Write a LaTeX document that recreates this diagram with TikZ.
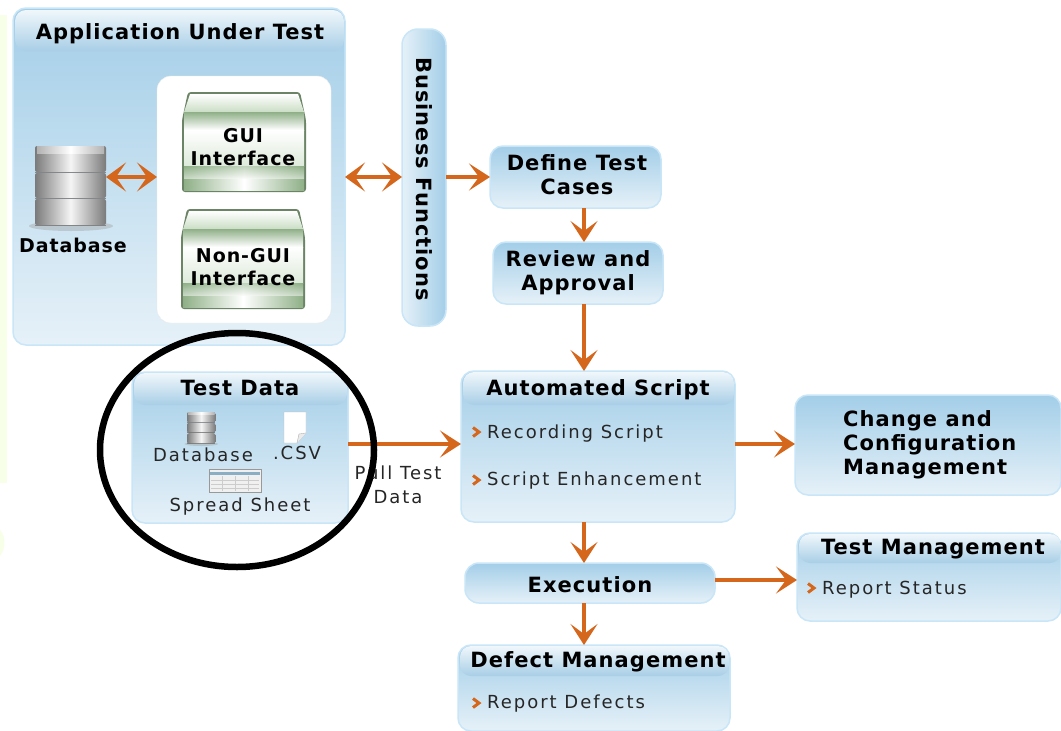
\documentclass[tikz,border=0pt]{standalone}
\usepackage{fontspec}
\setmainfont{DejaVu Sans}
\newfontfamily\titlefam[LetterSpace=5]{DejaVu Sans}
\newfontfamily\textfam[LetterSpace=11]{DejaVu Sans}
\usetikzlibrary{arrows.meta,shadings,calc}
\definecolor{edgeblue}{HTML}{C8E6F8}
\definecolor{bodytop}{HTML}{A3CEE8}
\definecolor{bodybot}{HTML}{E6F1F8}
\definecolor{headtop}{HTML}{F0F7FB}
\definecolor{headbot}{HTML}{A8CEE6}
\definecolor{flowc}{HTML}{D5671D}
\definecolor{gdark}{HTML}{8FB087}
\definecolor{gmid}{HTML}{B4CFAC}
\definecolor{paleyel}{HTML}{F8FFE8}
\tikzset{
  x=1pt,y=-1pt,
  bodybox/.style={draw=edgeblue,line width=1.5pt,rounded corners=13pt,top color=bodytop,bottom color=bodybot,
    anchor=north west,inner sep=0pt,outer sep=0pt},
  headbox/.style={rounded corners=11pt,top color=headtop,bottom color=headbot,
    anchor=north west,inner sep=0pt,outer sep=0pt},
  title/.style={font=\titlefam\fontsize{21}{24}\selectfont\bfseries,text=black,inner sep=0pt,align=center},
  smalltitle/.style={title,font=\titlefam\fontsize{19}{23}\selectfont\bfseries},
  smalltext/.style={font=\textfam\fontsize{18}{22}\selectfont,text=black!85,inner sep=0pt},
  flow/.style={draw=flowc,line width=3.5pt,-{Stealth[length=21pt,width=27pt,inset=10pt]}},
  flowboth/.style={draw=flowc,line width=3.5pt,{Stealth[length=20pt,width=29pt,inset=10pt]}-{Stealth[length=20pt,width=29pt,inset=10pt]}},
  bullet/.pic={\draw[flowc,line width=3pt] (-3,-4.5) -- (3,0) -- (-3,4.5);},
  dbicon/.pic={
    \fill[black!35,opacity=.45] (36,80) ellipse (42 and 5);
    \foreach \a/\b in {0/26,27/52,53/79}{
      \shade[left color=black!52,right color=black!52,middle color=black!4,rounded corners=2pt] (0,\a) rectangle (71,\b);
      \draw[black!55,line width=1pt,opacity=.8] (0,\b) -- (71,\b);
    }
    \shade[left color=black!30,right color=black!30,middle color=white] (2,0) rectangle (69,7);
  },
  greenbox/.pic={
    \fill[gdark!75!black,rounded corners=3pt] (6,0) -- (118,0) -- (124,28) -- (124,100) -- (0,100) -- (0,28) -- cycle;
    \shade[top color=white,bottom color=gmid!70] (8,2) -- (116,2) -- (122,20) -- (2,20) -- cycle;
    \shade[top color=gdark,bottom color=white] (2,20) rectangle (122,38);
    \shade[top color=white,bottom color=white!55!gmid] (2,38) rectangle (122,74);
    \shade[left color=gdark,right color=gdark,middle color=white] (2,74) rectangle (122,98);
    \shade[top color=gdark,bottom color=gdark!10,opacity=.55] (2,74) rectangle (122,86);
  },
}
\begin{document}
\begin{tikzpicture}
\useasboundingbox (0,0) rectangle (1061,731);
\fill[white] (0,0) rectangle (1061,731);
\fill[paleyel] (0,15) rectangle (7,483);
\fill[paleyel] (0,530) .. controls (6,535) and (6,550) .. (0,556) -- cycle;

% Application Under Test
\node[bodybox,minimum width=332pt,minimum height=337pt] (aut) at (13,8) {};
\node[headbox,minimum width=329pt,minimum height=41pt] (authead) at (15,10) {};
\node[title] (autt) at (180,34) {Application Under Test};
\node[anchor=north west,fill=white,draw=black!8,rounded corners=14pt,minimum width=174pt,minimum height=247pt,inner sep=0pt,outer sep=0pt] (panel) at (157,76) {};
\pic at (182,92) {greenbox};
\node[smalltitle] (gui) at (243,147) {GUI\\[0pt]Interface};
\pic at (181,209) {greenbox};
\node[smalltitle] (nongui) at (243,267) {Non-GUI\\[0pt]Interface};
\pic at (35,146) {dbicon};
\coordinate (dbright) at (106,177);
\node[smalltitle] (dblabel) at (73,245) {Database};

% Business Functions
\node[bodybox,rounded corners=16pt,minimum width=44pt,minimum height=297pt,left color=bodybot,right color=bodytop] (bf) at (402,29) {};
\node[title,rotate=-90] (bftext) at (424,179) {Business Functions};

% Flow column
\node[bodybox,minimum width=171pt,minimum height=62pt] (def) at (490,146) {};
\node[title] (deft) at (577,175) {Define Test\\[0pt]Cases};
\node[bodybox,minimum width=170pt,minimum height=62pt] (rev) at (493,242) {};
\node[title] (revt) at (578,273) {Review and\\[0pt]Approval};

% Automated Script
\node[bodybox,minimum width=274pt,minimum height=151pt] (auto) at (461,371) {};
\node[headbox,minimum width=271pt,minimum height=33pt] (autohead) at (463,372) {};
\node[title] (autot) at (598,390) {Automated Script};
\pic at (476,432) {bullet};
\node[smalltext,anchor=west] (rec) at (487,434) {Recording Script};
\pic at (476,480) {bullet};
\node[smalltext,anchor=west] (enh) at (487,481) {Script Enhancement};

% Test Data
\node[bodybox,minimum width=216pt,minimum height=151pt] (td) at (132,372) {};
\node[headbox,minimum width=213pt,minimum height=32pt] (tdhead) at (134,373) {};
\node[title] (tdt) at (240,388) {Test Data};
\pic[scale=.4] at (187,412) {dbicon};
\node[smalltext] (tddb) at (203,455) {Database};
\draw[black!25,fill=white] (284,412) -- (306,412) -- (306,433) -- (297,443) -- (284,443) -- cycle;
\draw[black!30,fill=black!8] (297,443) -- (299,434) -- (306,433);
\node[smalltext] (tdcsv) at (297,453) {.CSV};
\draw[black!40,fill=black!6] (209,469) rectangle (261,492);
\fill[bodytop!85!black] (210,472) rectangle (260,475);
\foreach \gy in {480,484,488}{\draw[black!20,line width=.6pt] (211,\gy) -- (259,\gy);}
\foreach \gx in {222,235,248}{\draw[black!20,line width=.6pt] (\gx,476) -- (\gx,491);}
\node[smalltext] (tdss) at (240,507) {Spread Sheet};

% Pull label
\node[smalltext,align=center] (pull) at (398,485) {Pull Test\\[2pt]Data};

% Change
\node[bodybox,minimum width=266pt,minimum height=100pt] (chg) at (795,395) {};
\node[title,anchor=west,align=left] (chgt) at (843,445) {Change and\\[0pt]Configuration\\[0pt]Management};

% Execution
\node[bodybox,rounded corners=14pt,minimum width=250pt,minimum height=40pt] (exe) at (465,563) {};
\node[title] (exet) at (590,585) {Execution};

% Test Management
\node[bodybox,minimum width=264pt,minimum height=88pt] (tm) at (797,533) {};
\node[headbox,minimum width=262pt,minimum height=29pt] (tmhead) at (799,534) {};
\node[title] (tmt) at (933,549) {Test Management};
\pic at (811,588) {bullet};
\node[smalltext,anchor=west] (rs) at (822,590) {Report Status};

% Defect Management
\node[bodybox,minimum width=272pt,minimum height=86pt] (dm) at (458,645) {};
\node[headbox,minimum width=269pt,minimum height=30pt] (dmhead) at (460,646) {};
\node[title] (dmt) at (598,662) {Defect Management};
\pic at (476,703) {bullet};
\node[smalltext,anchor=west] (rd) at (487,704) {Report Defects};

% Connectors
\coordinate (vx) at (584,0);
\coordinate (ya) at (0,177);
\draw[flowboth] (dbright) -- (dbright -| panel.west);
\draw[flowboth] (aut.east |- ya) -- (bf.west |- ya);
\draw[flow] (bf.east |- ya) -- (def.west |- ya);
\draw[flow] (vx |- def.south) -- (vx |- rev.north);
\draw[flow] (vx |- rev.south) -- (vx |- auto.north);
\coordinate (yb) at (0,444);
\draw[flow] (td.east |- yb) -- (auto.west |- yb);
\draw[flow] (auto.east |- yb) -- (chg.west |- yb);
\draw[flow] (vx |- auto.south) -- (vx |- exe.north);
\draw[flow] (vx |- exe.south) -- (vx |- dm.north);
\coordinate (yc) at (0,580);
\draw[flow] (exe.east |- yc) -- (tm.west |- yc);

% Highlight ellipse
\draw[black,line width=6.5pt] (237,450) ellipse (137 and 117);
\end{tikzpicture}
\end{document}
